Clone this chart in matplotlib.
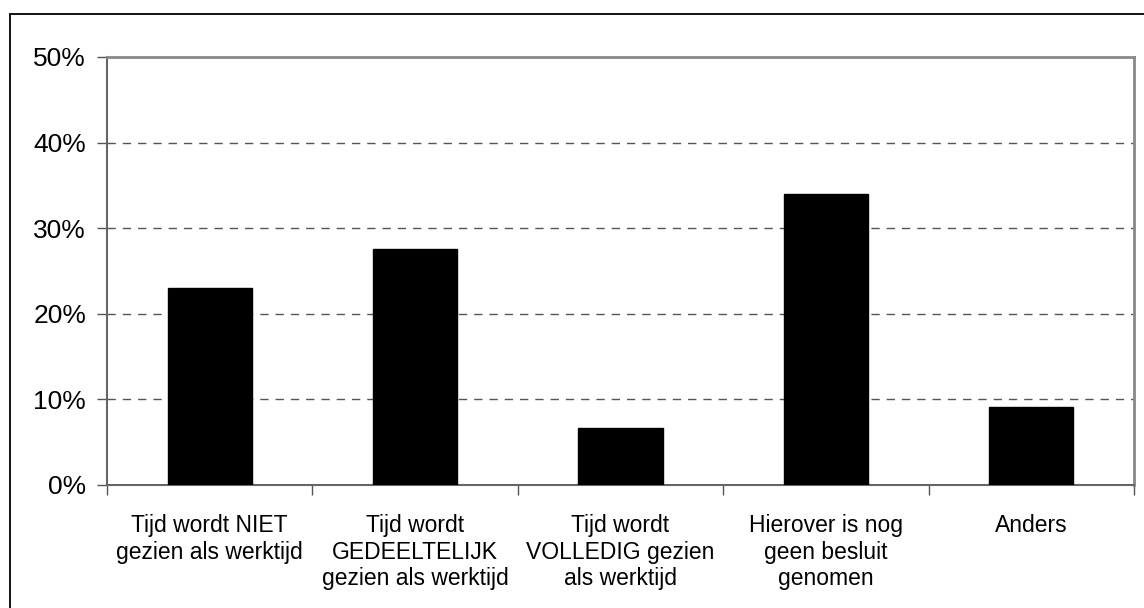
import matplotlib
matplotlib.use("Agg")
import matplotlib.pyplot as plt
from matplotlib.patches import Rectangle
from matplotlib.ticker import FixedLocator, NullFormatter

categories = [
    "Tijd wordt NIET\ngezien als werktijd",
    "Tijd wordt\nGEDEELTELIJK\ngezien als werktijd",
    "Tijd wordt\nVOLLEDIG gezien\nals werktijd",
    "Hierover is nog\ngeen besluit\ngenomen",
    "Anders",
]
values = [23.0, 27.6, 6.7, 34.0, 9.15]
yticks = [0, 10, 20, 30, 40, 50]
ytick_labels = ["0%", "10%", "20%", "30%", "40%", "50%"]

plt.rcParams['font.family'] = ['Liberation Sans', 'DejaVu Sans']

W, H = 1144, 608
fig = plt.figure(figsize=(W / 100, H / 100), dpi=100)
fig.patch.set_facecolor("white")

# outer chart border (only left and top edges visible)
fig.add_artist(Rectangle((10 / W, -0.1), 1.2, 1 - 14 / H + 0.1, transform=fig.transFigure,
                         fill=False, edgecolor="black", linewidth=1.3))

left, right, top, bottom = 107, 1134, 57, 485
ax = fig.add_axes([left / W, 1 - bottom / H, (right - left) / W, (bottom - top) / H])

x = list(range(len(categories)))
ax.bar(x, values, width=0.41, color="black", edgecolor="black", zorder=3)

ax.set_xlim(-0.5, len(categories) - 0.5)
ax.set_ylim(0, 50)
ax.set_yticks(yticks)
ax.set_yticklabels(ytick_labels, fontsize=19)

ax.xaxis.set_major_locator(FixedLocator([i - 0.5 for i in range(len(categories) + 1)]))
ax.xaxis.set_major_formatter(NullFormatter())
ax.xaxis.set_minor_locator(FixedLocator(x))
ax.set_xticklabels(categories, minor=True, fontsize=16.5, linespacing=1.2)
ax.tick_params(axis="x", which="minor", length=0, pad=21)
ax.tick_params(axis="x", which="major", length=7, width=1, color="#555555", direction="out")
ax.tick_params(axis="y", length=7, width=1, color="#555555", direction="out", pad=8)

for y in yticks[1:-1]:
    ax.axhline(y, color="#555555", linestyle=(0, (6, 5)), linewidth=1, zorder=1)

for s in ["top", "right"]:
    ax.spines[s].set_color("#888888")
    ax.spines[s].set_linewidth(2)
for s in ["left", "bottom"]:
    ax.spines[s].set_color("#666666")
    ax.spines[s].set_linewidth(1.5)

fig.savefig("out.png", dpi=100, facecolor="white")
